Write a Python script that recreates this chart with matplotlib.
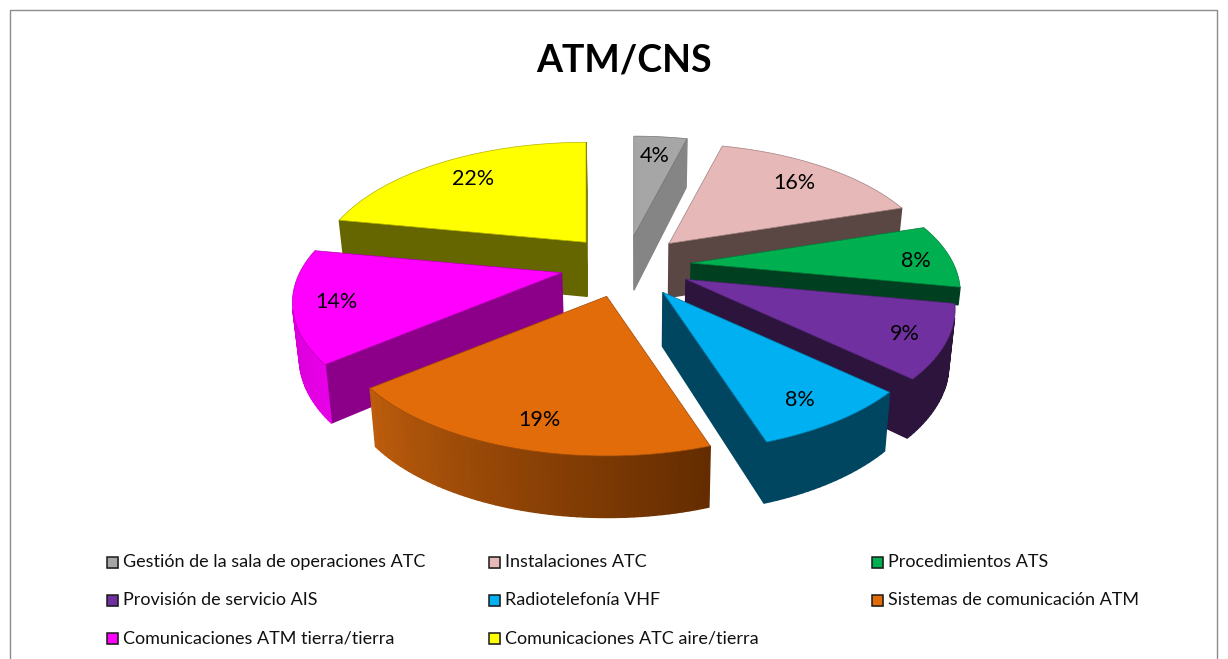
import numpy as np
from matplotlib import pyplot as plt
from matplotlib.colors import to_rgb
from matplotlib.patches import Polygon, Rectangle

plt.rcParams['font.family'] = ['Lato', 'DejaVu Sans']

# slices, clockwise from 12 o'clock
names = ['Gestión de la sala de operaciones ATC', 'Instalaciones ATC', 'Procedimientos ATS',
         'Provisión de servicio AIS', 'Radiotelefonía VHF', 'Sistemas de comunicación ATM',
         'Comunicaciones ATM tierra/tierra', 'Comunicaciones ATC aire/tierra']
values = [4, 16, 8, 9, 8, 19, 14, 22]

top_colors = ['#a6a6a6', '#e6b8b7', '#00b050', '#7030a0', '#00b0f0', '#e26b0a', '#ff00ff', '#ffff00']
wall_colors = ['#858585', '#5a4744', '#004020', '#2c143d', '#004660', '#6a3000', '#8c0089', '#666600']
# rim shading at the start and end angle of each slice
rim_start = ['#858585', '#5a4744', '#004020', '#2c143d', '#004660', '#642c00', '#e800e8', '#666600']
rim_end = ['#858585', '#5a4744', '#004020', '#2c143d', '#004660', '#bc5c0c', '#c800c8', '#666600']

# projection of the pie
CX, CY = 626, 265
RX, RY = 262, 123
PERSP = 0.23
EXPLODE = 0.25
DEPTH = 54
VANISH_X = 640
LABEL_POS = 0.82
# hand placed offsets for the percent labels, in pixels
label_nudge = [(-1, -1), (-1, 0), (13, 2), (5, 2), (-6, 0), (10, -3), (-5, 1), (3, 1)]
# the green wall is mostly behind the purple slice, only its top strip shows
wall_depth = [1, 1, 0.32, 1, 1, 1, 1, 1]


def scale(y):
    return 1 / (1 - PERSP * y)


def project(mid, theta, r=1.0):
    '''Screen position of a point at angle theta on a slice exploded along mid'''
    ex, ey = EXPLODE * np.sin(mid), -EXPLODE * np.cos(mid)
    x, y = r * np.sin(theta), -r * np.cos(theta)
    sx = CX + scale(ey) * ex * RX + scale(y) * x * RX
    sy = CY + scale(ey) * ey * RY + scale(y) * y * RY
    return np.array([sx, sy]), y


def drop(p, y, depth=1.0):
    '''Same point on the underside of the pie'''
    bx = p[0] + (VANISH_X - p[0]) * 0.02 * depth
    return np.array([bx, p[1] + depth * DEPTH * np.sqrt(scale(y))])


def area(pts):
    x, y = np.array(pts).T
    return 0.5 * np.sum(x * np.roll(y, -1) - np.roll(x, -1) * y)


def mix(c1, c2, t):
    return tuple((1 - t) * np.array(to_rgb(c1)) + t * np.array(to_rgb(c2)))


fig = plt.figure(figsize=(12.28, 6.59), dpi=100)
ax = fig.add_axes([0, 0, 1, 1])
ax.set_xlim(0, 1228)
ax.set_ylim(659, 0)
ax.axis('off')

# chart frame, runs off the bottom of the picture
ax.add_patch(Rectangle((10, 10), 1207, 700, fc='white', ec='#8c8c8c', lw=1))
ax.text(624, 61, 'ATM/CNS', fontsize=27, fontweight='bold', ha='center', va='center')

edges = np.cumsum([0] + values) / sum(values) * 2 * np.pi
slices = []
for i in range(len(values)):
    slices.append((i, edges[i], edges[i + 1], (edges[i] + edges[i + 1]) / 2))
# paint from the back of the pie to the front
slices.sort(key=lambda s: -np.cos(s[3]))

for i, a0, a1, mid in slices:
    thetas = np.linspace(a0, a1, max(int(values[i] * 3), 8))
    apex, apex_y = project(mid, mid, 0)
    rim = [project(mid, t) for t in thetas]
    outline = [(apex, apex_y)] + rim

    n = len(outline)
    for j in range(n):
        (p0, y0), (p1, y1) = outline[j], outline[(j + 1) % n]
        quad = [p0, p1, drop(p1, y1, wall_depth[i]), drop(p0, y0, wall_depth[i])]
        # only the walls that face the viewer
        if area(quad) >= 0:
            continue
        if 1 <= j < n - 1:
            t = (j - 1) / (n - 3)
            col = mix(rim_start[i], rim_end[i], t)
        else:
            col = wall_colors[i]
        ax.add_patch(Polygon(quad, closed=True, fc=col, ec=col, lw=1.0, zorder=2))

    top = [p for p, _ in outline]
    ax.add_patch(Polygon(top, closed=True, fc=top_colors[i], ec=mix(top_colors[i], '#000000', 0.3),
                         lw=0.5, zorder=2))

    # label sits on the top face
    rim_mid, _ = project(mid, mid)
    lx, ly = apex + LABEL_POS * (rim_mid - apex)
    dx, dy = label_nudge[i]
    ax.text(lx + dx, ly + 2 + dy, f'{values[i]}%', fontsize=15.5, ha='center', va='center',
            color='black', zorder=3)

# legend, three columns filled row by row
col_x = [107, 489, 872]
row_y = [562, 600, 638]
for i, name in enumerate(names):
    x = col_x[i % 3]
    y = row_y[i // 3]
    ax.add_patch(Rectangle((x + 1, y - 4), 11, 11, fc='#c8c8c8', ec='none', zorder=2))
    ax.add_patch(Rectangle((x, y - 5), 11, 11, fc=top_colors[i], ec='#1a1a1a', lw=1.1, zorder=3))
    ax.text(x + 16, y, name, fontsize=13, ha='left', va='center', color='#111111')

plt.savefig('out.png', dpi=100)
plt.close()
